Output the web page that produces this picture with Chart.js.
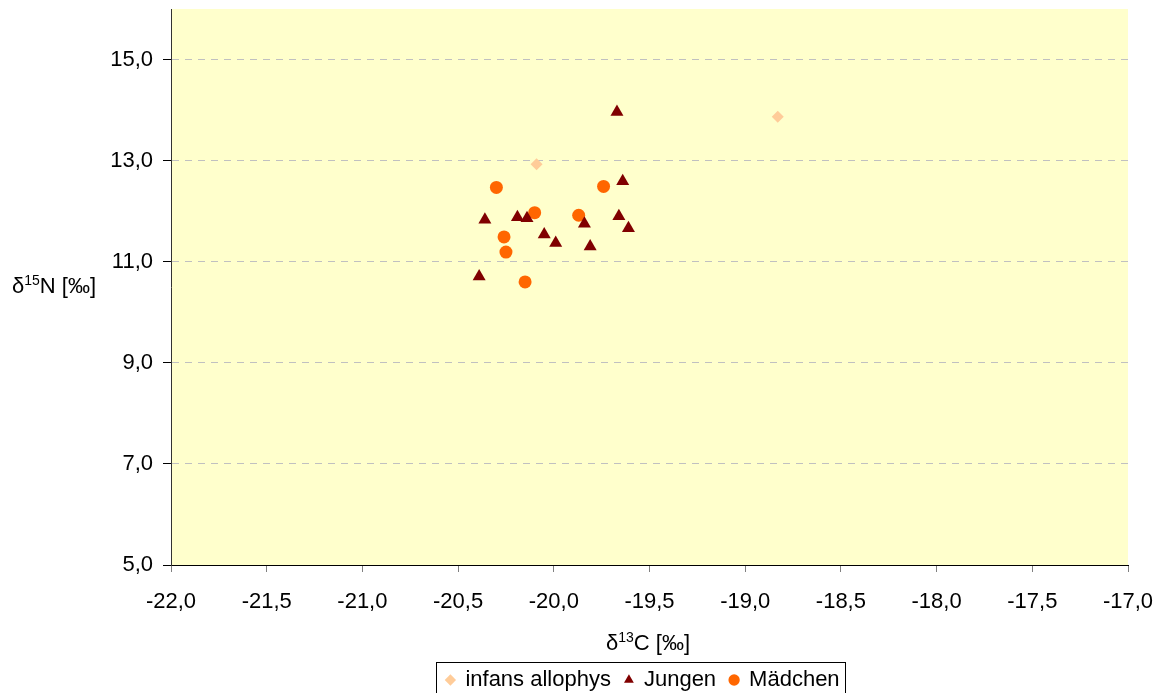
<!DOCTYPE html>
<html>
<head>
<meta charset="utf-8">
<script src="https://cdn.jsdelivr.net/npm/chart.js@4/dist/chart.umd.min.js"></script>
<style>
  body { margin: 0; background: #fff; }
</style>
</head>
<body>
<canvas id="grafico" width="1161" height="693"></canvas>
<script>
const xTicks = [-22, -21.5, -21, -20.5, -20, -19.5, -19, -18.5, -18, -17.5, -17];
const yTicks = [5, 7, 9, 11, 13, 15];

const infansX = [-20.09, -18.83];
const infansY = [12.93, 13.87];

const jungenX = [-19.67, -19.64, -20.36, -20.19, -20.14, -20.05, -19.99, -19.84, -19.81, -19.66, -19.61, -20.39];
const jungenY = [13.96, 12.59, 11.83, 11.88, 11.86, 11.54, 11.37, 11.75, 11.30, 11.90, 11.66, 10.71];

const maedchenX = [-20.30, -19.74, -20.10, -19.87, -20.26, -20.25, -20.15];
const maedchenY = [12.47, 12.49, 11.97, 11.92, 11.49, 11.19, 10.60];

const pares = (xs, ys) => xs.map((x, i) => ({ x: x, y: ys[i] }));
const fmt = v => Number(v).toFixed(1).replace('.', ',');
const fuente = "'Liberation Sans', Arial, sans-serif";
const tam = 22;

// fondo amarillo del area del grafico
const fondo = {
  id: 'fondo',
  beforeDraw(chart) {
    const a = chart.chartArea;
    chart.ctx.save();
    chart.ctx.fillStyle = '#FFFFCC';
    chart.ctx.fillRect(a.left, a.top, a.right - a.left, a.bottom - a.top);
    chart.ctx.restore();
  }
};

// titulos de los ejes con superindice
function textoSup(ctx, pre, sup, post, x, y, centrado) {
  ctx.font = tam + 'px ' + fuente;
  const w1 = ctx.measureText(pre).width;
  const w3 = ctx.measureText(post).width;
  ctx.font = '14px ' + fuente;
  const w2 = ctx.measureText(sup).width;
  let x0 = centrado ? x - (w1 + w2 + w3) / 2 : x;
  ctx.fillStyle = '#000';
  ctx.textBaseline = 'alphabetic';
  ctx.textAlign = 'left';
  ctx.font = tam + 'px ' + fuente;
  ctx.fillText(pre, x0, y);
  ctx.font = '14px ' + fuente;
  ctx.fillText(sup, x0 + w1, y - 8);
  ctx.font = tam + 'px ' + fuente;
  ctx.fillText(post, x0 + w1 + w2, y);
}

const titulos = {
  id: 'titulos',
  afterDraw(chart) {
    const ctx = chart.ctx;
    ctx.save();
    textoSup(ctx, 'δ', '15', 'N [‰]', 12, 293, false);
    textoSup(ctx, 'δ', '13', 'C [‰]', 648, 650, true);
    ctx.restore();
  }
};

// marco de la leyenda
const marcoLeyenda = {
  id: 'marcoLeyenda',
  afterDraw(chart) {
    const cajas = chart.legend.legendHitBoxes;
    if (!cajas || !cajas.length) return;
    let izq = Infinity, der = -Infinity, arriba = Infinity;
    cajas.forEach(c => {
      izq = Math.min(izq, c.left);
      der = Math.max(der, c.left + c.width);
      arriba = Math.min(arriba, c.top);
    });
    const ctx = chart.ctx;
    ctx.save();
    ctx.strokeStyle = '#000';
    ctx.lineWidth = 1;
    ctx.strokeRect(Math.round(izq - 10) + 0.5, Math.round(arriba - 7) + 0.5, Math.round(der - izq + 16), 40);
    ctx.restore();
  }
};

new Chart(document.querySelector('#grafico'), {
  type: 'scatter',
  data: {
    datasets: [
      {
        label: 'infans allophys',
        data: pares(infansX, infansY),
        pointStyle: 'rectRot',
        pointRadius: 6,
        backgroundColor: '#FFCC99',
        borderColor: '#FFCC99',
        borderWidth: 0
      },
      {
        label: 'Jungen',
        data: pares(jungenX, jungenY),
        pointStyle: 'triangle',
        pointRadius: 7.5,
        backgroundColor: '#800000',
        borderColor: '#800000',
        borderWidth: 0
      },
      {
        label: 'Mädchen',
        data: pares(maedchenX, maedchenY),
        pointStyle: 'circle',
        pointRadius: 6.5,
        backgroundColor: '#FF6600',
        borderColor: '#FF6600',
        borderWidth: 0
      }
    ]
  },
  options: {
    responsive: false,
    animation: false,
    layout: { padding: { left: 108, right: -17, top: 0, bottom: -8 } },
    plugins: {
      tooltip: { enabled: false },
      legend: {
        position: 'bottom',
        labels: {
          usePointStyle: true,
          boxWidth: 8,
          boxHeight: 8,
          padding: 14,
          color: '#000',
          font: { family: fuente, size: tam }
        }
      }
    },
    scales: {
      x: {
        type: 'linear',
        min: -22,
        max: -17,
        afterBuildTicks: s => { s.ticks = xTicks.map(v => ({ value: v })); },
        afterFit: s => {
          s.height = 693 - 565 - s.chart.legend.height + 8;
          s.paddingRight = 33;
        },
        ticks: {
          callback: v => fmt(v),
          autoSkip: false,
          maxRotation: 0,
          padding: 17,
          color: '#000',
          font: { family: fuente, size: tam }
        },
        grid: { drawOnChartArea: false, drawTicks: true, tickLength: 7, color: '#808080', tickColor: '#808080' },
        border: { display: true, color: '#000', width: 1 }
      },
      y: {
        type: 'linear',
        min: 5,
        max: 16,
        afterBuildTicks: s => { s.ticks = yTicks.map(v => ({ value: v })); },
        afterFit: s => {
          s.width = 171 - 108;
          s.paddingTop = 9;
          s.paddingBottom = 0;
        },
        ticks: {
          callback: v => fmt(v),
          autoSkip: false,
          padding: 10,
          color: '#000',
          font: { family: fuente, size: tam }
        },
        grid: {
          color: c => (c.tick && c.tick.value === 5) ? 'rgba(0,0,0,0)' : '#C0C0C0',
          tickColor: '#000',
          tickLength: 8,
          lineWidth: 1
        },
        border: { display: true, color: '#333', width: 1, dash: [7, 6] }
      }
    }
  },
  plugins: [fondo, titulos, marcoLeyenda]
});
</script>
</body>
</html>
